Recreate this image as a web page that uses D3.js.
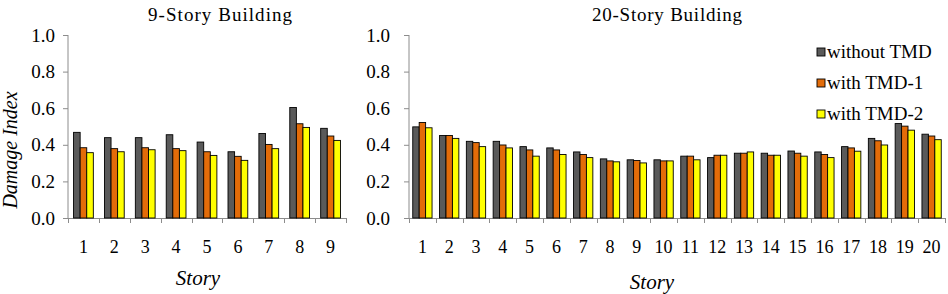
<!DOCTYPE html>
<html>
<head>
<meta charset="utf-8">
<script src="https://cdn.jsdelivr.net/npm/d3@7"></script>
</head>
<body style="margin:0;background:#fff">
<div id="chart"></div>
<script>
var series = ["without TMD", "with TMD-1", "with TMD-2"];
var colors = ["#5a5a5a", "#e36c09", "#ffff00"];
var yTicks = [0, 0.2, 0.4, 0.6, 0.8, 1.0];

var stories9 = ["1", "2", "3", "4", "5", "6", "7", "8", "9"];
var without9 = [0.468, 0.439, 0.439, 0.455, 0.415, 0.362, 0.462, 0.604, 0.490];
var tmd1_9 = [0.384, 0.379, 0.384, 0.379, 0.362, 0.337, 0.402, 0.515, 0.448];
var tmd2_9 = [0.357, 0.362, 0.373, 0.368, 0.342, 0.315, 0.379, 0.495, 0.424];

var stories20 = ["1", "2", "3", "4", "5", "6", "7", "8", "9", "10",
  "11", "12", "13", "14", "15", "16", "17", "18", "19", "20"];
var without20 = [0.498, 0.451, 0.419, 0.419, 0.390, 0.383, 0.361, 0.323, 0.318, 0.318,
  0.338, 0.330, 0.354, 0.354, 0.366, 0.361, 0.390, 0.435, 0.516, 0.458];
var tmd1_20 = [0.522, 0.451, 0.412, 0.399, 0.372, 0.372, 0.347, 0.312, 0.314, 0.312,
  0.338, 0.343, 0.354, 0.343, 0.354, 0.347, 0.383, 0.422, 0.502, 0.448];
var tmd2_20 = [0.493, 0.435, 0.390, 0.383, 0.338, 0.347, 0.330, 0.307, 0.301, 0.312,
  0.318, 0.343, 0.361, 0.343, 0.338, 0.330, 0.365, 0.399, 0.480, 0.428];

var serif = "'Liberation Serif', 'Times New Roman', serif";
var axisColor = "#8c8c8c";

var svg = d3.select("#chart").append("svg")
  .attr("width", 948)
  .attr("height", 294);

function drawPanel(opt) {
  var x0 = d3.scaleBand().domain(opt.cats).range([opt.left, opt.right]).padding(0);
  var bw = x0.bandwidth();
  var x1 = d3.scaleBand().domain(series)
    .range([bw * opt.pad, bw * (1 - opt.pad)]).padding(0);
  var y = d3.scaleLinear().domain([0, 1]).range([218, 35]);

  var rows = opt.cats.map(function (c, i) {
    return { cat: c, vals: opt.data.map(function (s) { return s[i]; }) };
  });

  // y axis
  var yAxis = svg.append("g")
    .attr("transform", "translate(" + opt.left + ",0)")
    .call(d3.axisLeft(y).tickValues(yTicks).tickFormat(d3.format(".1f"))
      .tickSize(5).tickPadding(opt.yPad));
  yAxis.selectAll("line").attr("stroke", axisColor);
  yAxis.select(".domain").attr("stroke", axisColor)
    .attr("d", "M0," + y(0) + "V" + y(1));
  yAxis.selectAll("text")
    .style("font-family", serif)
    .style("font-size", "19px")
    .attr("fill", "#000");

  // x axis, ticks at category boundaries
  var bounds = opt.cats.map(function (c) { return x0(c); }).concat([opt.right]);
  var xg = svg.append("g");
  xg.append("line")
    .attr("x1", opt.left).attr("x2", opt.right)
    .attr("y1", y(0) + 0.5).attr("y2", y(0) + 0.5)
    .attr("stroke", axisColor);
  xg.selectAll(".tk").data(bounds).enter().append("line")
    .attr("x1", function (d) { return Math.round(d) + 0.5; })
    .attr("x2", function (d) { return Math.round(d) + 0.5; })
    .attr("y1", y(0)).attr("y2", y(0) + 5)
    .attr("stroke", axisColor);
  xg.selectAll(".lb").data(opt.cats).enter().append("text")
    .attr("x", function (d) { return x0(d) + bw / 2; })
    .attr("y", 253)
    .attr("text-anchor", "middle")
    .style("font-family", serif)
    .style("font-size", "18px")
    .text(function (d) { return d; });

  // bars
  var groups = svg.append("g").selectAll("g").data(rows).enter().append("g")
    .attr("transform", function (d) { return "translate(" + x0(d.cat) + ",0)"; });
  groups.selectAll("rect").data(function (d) {
    return d.vals.map(function (v, i) { return { s: series[i], v: v, i: i }; });
  }).enter().append("rect")
    .attr("x", function (d) { return x1(d.s); })
    .attr("y", function (d) { return y(d.v); })
    .attr("width", x1.bandwidth())
    .attr("height", function (d) { return y(0) - y(d.v); })
    .attr("fill", function (d) { return colors[d.i]; })
    .attr("stroke", "#000")
    .attr("stroke-width", 0.9);

  // title
  svg.append("text")
    .attr("x", opt.titleX).attr("y", 21)
    .attr("text-anchor", "middle")
    .style("font-family", serif)
    .style("font-size", "19px")
    .attr("textLength", opt.titleW)
    .text(opt.title);

  // x label
  svg.append("text")
    .attr("x", opt.storyX).attr("y", opt.storyY)
    .attr("text-anchor", "middle")
    .style("font-family", serif)
    .style("font-size", "21px")
    .style("font-style", "italic")
    .text("Story");
}

drawPanel({
  cats: stories9, data: [without9, tmd1_9, tmd2_9],
  left: 68, right: 346, pad: 0.18, yPad: 8,
  title: "9-Story Building", titleX: 220, titleW: 144,
  storyX: 198, storyY: 285
});

drawPanel({
  cats: stories20, data: [without20, tmd1_20, tmd2_20],
  left: 409, right: 945, pad: 0.14, yPad: 14,
  title: "20-Story Building", titleX: 667, titleW: 150,
  storyX: 652, storyY: 289
});

// y axis title
svg.append("text")
  .attr("transform", "translate(17,150) rotate(-90)")
  .attr("text-anchor", "middle")
  .style("font-family", serif)
  .style("font-size", "20px")
  .style("font-style", "italic")
  .text("Damage Index");

// legend
var legend = svg.append("g").selectAll("g").data(series).enter().append("g")
  .attr("transform", function (d, i) { return "translate(817," + (58 + i * 31) + ")"; });
legend.append("rect")
  .attr("x", 0).attr("y", -10)
  .attr("width", 8).attr("height", 8)
  .attr("fill", function (d, i) { return colors[i]; })
  .attr("stroke", "#000")
  .attr("stroke-width", 0.9);
legend.append("text")
  .attr("x", 10).attr("y", 0)
  .style("font-family", serif)
  .style("font-size", "19px")
  .text(function (d) { return d; });
</script>
</body>
</html>
